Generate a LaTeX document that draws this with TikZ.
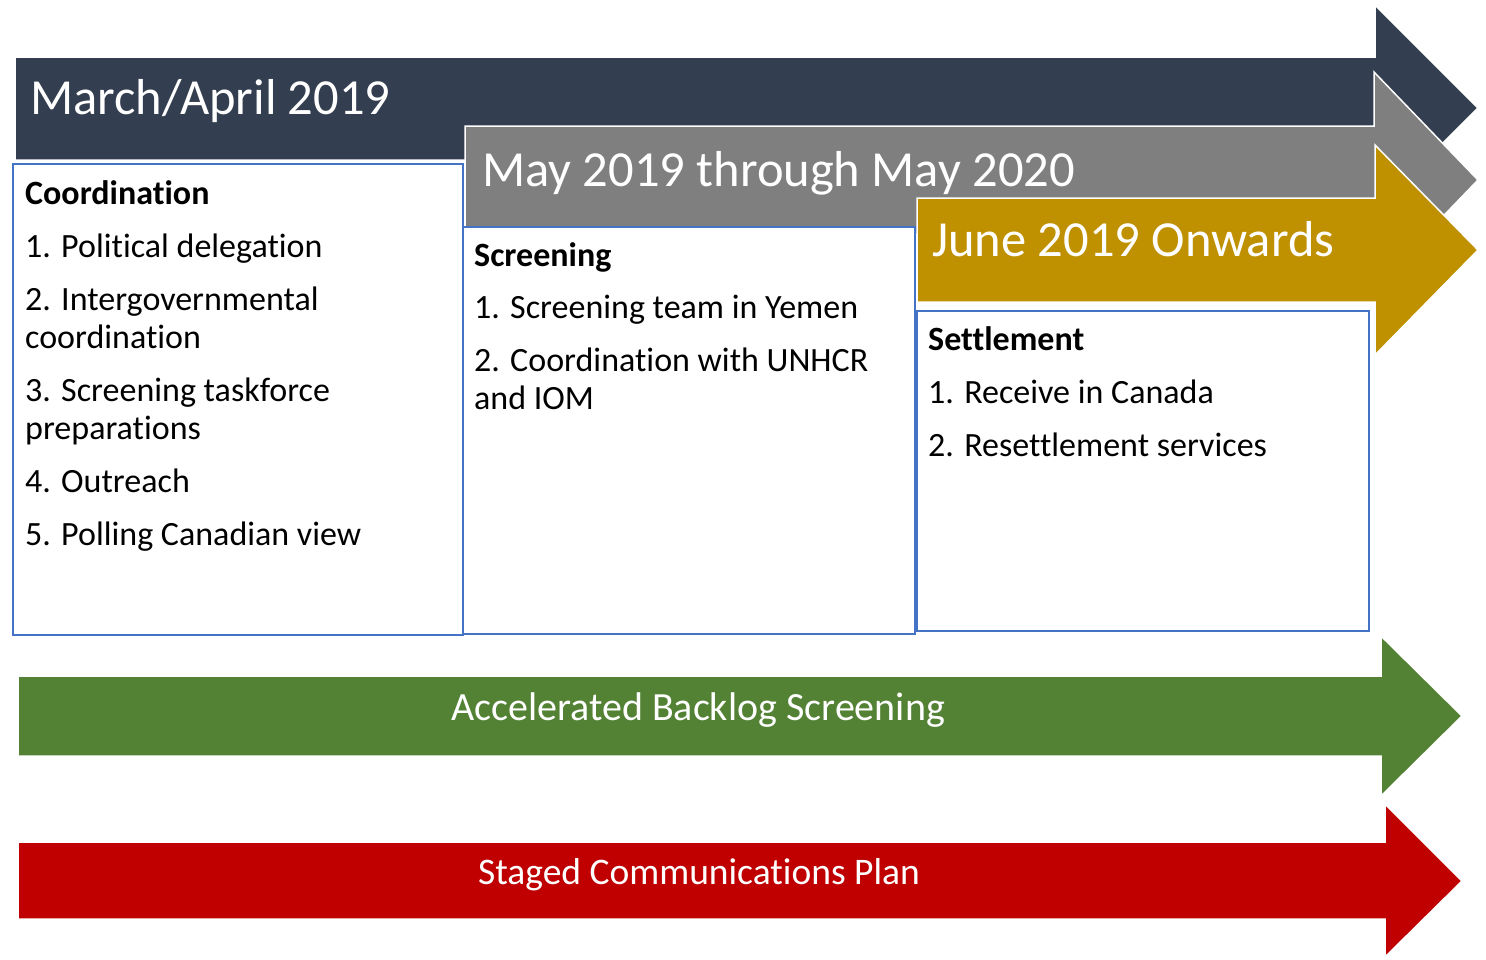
\documentclass[tikz,border=0pt]{standalone}
\usepackage{fontspec}
\setmainfont{Carlito}[Ligatures=NoCommon]
\definecolor{navy}{HTML}{333F50}
\definecolor{grayarr}{HTML}{7F7F7F}
\definecolor{gold}{HTML}{BF9000}
\definecolor{greenarr}{HTML}{548235}
\definecolor{redarr}{HTML}{C00000}
\definecolor{boxblue}{HTML}{4472C4}
\tikzset{
  arrowshape/.style={draw=white, line width=1.5pt, line join=miter},
  phasebox/.style={draw=boxblue, fill=white, line width=2pt},
  title/.style={anchor=base west, inner sep=0pt, text=white, font=\fontsize{50.5}{60}\selectfont},
  item/.style={anchor=base west, inner sep=0pt, text=black, font=\fontsize{34}{40}\selectfont},
  head/.style={item, font=\fontsize{34}{40}\selectfont\bfseries},
  bandtext/.style={anchor=base, inner sep=0pt, text=white}
}
\begin{document}
\begin{tikzpicture}[x=1pt,y=-1pt]
\useasboundingbox (0,0) rectangle (1486,959);
% top arrows
\fill[navy, arrowshape] (15,57) -- (1375,57) -- (1375,5) -- (1478,108) -- (1375,211) -- (1375,160) -- (15,160) -- cycle;
\fill[grayarr, arrowshape] (465,126) -- (1374,126) -- (1374,72) -- (1478,180) -- (1374,288) -- (1374,234) -- (465,234) -- cycle;
\fill[gold, arrowshape] (917,198) -- (1375,198) -- (1375,145) -- (1478,250) -- (1375,355) -- (1375,302) -- (917,302) -- cycle;
% boxes
\draw[phasebox] (13,164) rectangle (463,635);
\draw[phasebox] (463,227) rectangle (915,634);
\draw[phasebox] (917,311) rectangle (1369,631);
% titles
\node[title] (t1) at (30,114) {March/April 2019};
\node[title] (t2) at (482,186) {May 2019 through May 2020};
\node[title] (t3) at (932,256) {June 2019 Onwards};
% coordination
\node[head] (c0) at (25,204) {Coordination};
\node[item] (c1) at (25,257) {1. Political delegation};
\node[item] (c2) at (25,310) {2. Intergovernmental};
\node[item] (c2b) at (25,348) {coordination};
\node[item] (c3) at (25,401) {3. Screening taskforce};
\node[item] (c3b) at (25,439) {preparations};
\node[item] (c4) at (25,492) {4. Outreach};
\node[item] (c5) at (25,545) {5. Polling Canadian view};
% screening
\node[head] (s0) at (474,266) {Screening};
\node[item] (s1) at (474,318) {1. Screening team in Yemen};
\node[item] (s2) at (474,371) {2. Coordination with UNHCR};
\node[item] (s2b) at (474,409) {and IOM};
% settlement
\node[head] (r0) at (928,350) {Settlement};
\node[item] (r1) at (928,403) {1. Receive in Canada};
\node[item] (r2) at (928,456) {2. Resettlement services};
% bottom arrows
\fill[greenarr, arrowshape] (18,676) -- (1381,676) -- (1381,636) -- (1462,716) -- (1381,796) -- (1381,756) -- (18,756) -- cycle;
\fill[redarr, arrowshape] (18,842) -- (1385,842) -- (1385,804) -- (1462,881) -- (1385,957) -- (1385,919) -- (18,919) -- cycle;
\node[bandtext, font=\fontsize{40}{48}\selectfont] (b1) at (698,720) {Accelerated Backlog Screening};
\node[bandtext, font=\fontsize{37.5}{45}\selectfont] (b2) at (699,884) {Staged Communications Plan};
\end{tikzpicture}
\end{document}
